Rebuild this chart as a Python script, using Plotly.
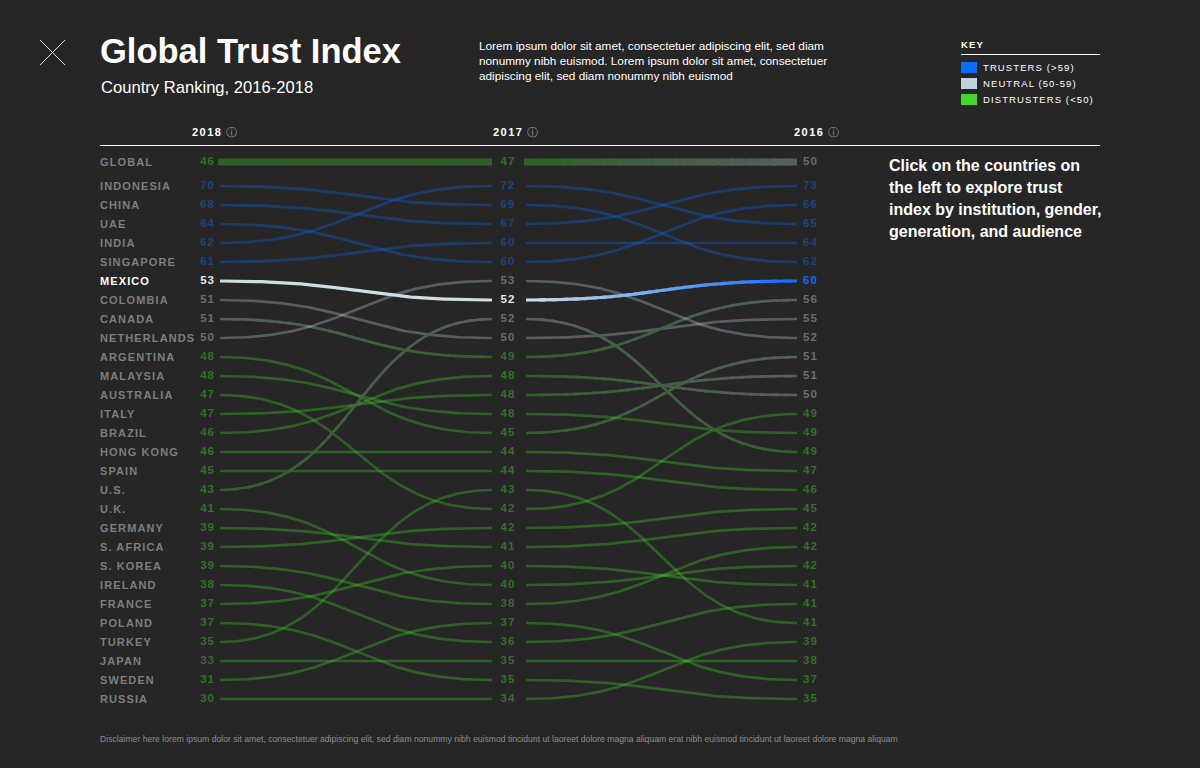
import numpy as np
import plotly.graph_objects as go

# ---------------- data ----------------
YEARS = ["2018", "2017", "2016"]
COUNTRIES = ["INDONESIA", "CHINA", "UAE", "INDIA", "SINGAPORE", "MEXICO", "COLOMBIA",
             "CANADA", "NETHERLANDS", "ARGENTINA", "MALAYSIA", "AUSTRALIA", "ITALY",
             "BRAZIL", "HONG KONG", "SPAIN", "U.S.", "U.K.", "GERMANY", "S. AFRICA",
             "S. KOREA", "IRELAND", "FRANCE", "POLAND", "TURKEY", "JAPAN", "SWEDEN", "RUSSIA"]
V2018 = [70, 68, 64, 62, 61, 53, 51, 51, 50, 48, 48, 47, 47, 46, 46, 45, 43, 41, 39, 39,
         39, 38, 37, 37, 35, 33, 31, 30]
V2017 = [69, 67, 60, 72, 60, 52, 50, 49, 53, 45, 48, 42, 48, 48, 44, 44, 52, 40, 41, 42,
         38, 36, 40, 35, 43, 35, 37, 34]
V2016 = [62, 73, 66, 65, 64, 60, 55, 56, 52, 51, 49, 49, 51, 50, 47, 46, 49, 42, 42, 45,
         42, 41, 41, 35, 41, 38, 37, 39]
RANK2017 = [2, 3, 5, 1, 4, 7, 9, 10, 6, 14, 13, 18, 12, 11, 15, 16, 8, 22, 20, 19, 23, 25,
            21, 27, 17, 26, 24, 28]
RANK2016 = [5, 1, 2, 3, 4, 6, 8, 7, 9, 10, 14, 13, 11, 12, 16, 17, 15, 21, 19, 18, 20, 23,
            22, 28, 24, 26, 27, 25]
GLOBAL_LABEL = "GLOBAL"
GLOBAL_VALUES = [46, 47, 50]
HIGHLIGHT = "MEXICO"
KEY_LABELS = ["TRUSTERS (>59)", "NEUTRAL (50-59)", "DISTRUSTERS (<50)"]

TITLE = "Global Trust Index"
SUBTITLE = "Country Ranking, 2016-2018"
DESC = ["Lorem ipsum dolor sit amet, consectetuer adipiscing elit, sed diam",
        "nonummy nibh euismod. Lorem ipsum dolor sit amet, consectetuer",
        "adipiscing elit, sed diam nonummy nibh euismod"]
SIDE = ["Click on the countries on", "the left to explore trust",
        "index by institution, gender,", "generation, and audience"]
FOOT = ("Disclaimer here lorem ipsum dolor sit amet, consectetuer adipiscing elit, sed diam "
        "nonummy nibh euismod tincidunt ut laoreet dolore magna aliquam erat nibh euismod "
        "tincidunt ut laoreet dolore magna aliquam")

# ---------------- style / layout ----------------
W, H = 1200, 768
FONT = "Liberation Sans, Arial, sans-serif"
BG = (38, 38, 38)
TRUST = (11, 108, 255)
NEUTRAL = (191, 212, 220)
DISTRUST = (68, 214, 44)
COL0_PX, COL_STEP_PX = 207, 301
ROW1_PX, ROW_STEP_PX = 186, 19
GLOBAL_ROW = -0.26
PAD_START = [13 / COL_STEP_PX, 18 / COL_STEP_PX]
PAD_END = [16 / COL_STEP_PX, 12 / COL_STEP_PX]
LINE_ALPHA = 0.32


def blend(c, a):
    return tuple(int(round(a * c[k] + (1 - a) * BG[k])) for k in range(3))


def rgb(c):
    return "rgb(%d,%d,%d)" % c


def cat(v):
    if v > 59:
        return TRUST
    if v >= 50:
        return NEUTRAL
    return DISTRUST


def py(px):  # paper y from pixel
    return 1 - px / H


def pxx(px):  # paper x from pixel
    return px / W


fig = go.Figure()


def curve(x0, y0, x1, y1, c0, c1, width, alpha=None):
    n = 121
    t = np.linspace(0, 1, n)
    xm = (x0 + x1) / 2
    xs = (1 - t) ** 3 * x0 + 3 * (1 - t) ** 2 * t * xm + 3 * (1 - t) * t ** 2 * xm + t ** 3 * x1
    ys = y0 + (y1 - y0) * (3 * t ** 2 - 2 * t ** 3)
    if c0 == c1:
        col = rgb(c0) if alpha is None else "rgba(%d,%d,%d,%.2f)" % (c0 + (alpha,))
        fig.add_trace(go.Scatter(x=xs, y=ys, mode="lines", line=dict(color=col, width=width),
                                 hoverinfo="skip", showlegend=False))
        return
    if alpha is not None:
        c0, c1 = blend(c0, alpha), blend(c1, alpha)
    k = 30
    step = (n - 1) // k
    for p in range(k):
        a, b = p * step, min(n, (p + 1) * step + 3)
        f = (xs[min(n - 1, p * step + step // 2)] - x0) / (x1 - x0)
        col = tuple(int(round(c0[j] + (c1[j] - c0[j]) * f)) for j in range(3))
        fig.add_trace(go.Scatter(x=xs[a:b], y=ys[a:b], mode="lines",
                                 line=dict(color=rgb(col), width=width),
                                 hoverinfo="skip", showlegend=False))


vals = [V2018, V2017, V2016]
ranks = [list(range(1, len(COUNTRIES) + 1)), RANK2017, RANK2016]

# global line
for s in range(2):
    curve(s + PAD_START[s] - 2 / COL_STEP_PX, GLOBAL_ROW, s + 1 - PAD_END[s], GLOBAL_ROW,
          blend(cat(GLOBAL_VALUES[s]), 0.32), blend(cat(GLOBAL_VALUES[s + 1]), 0.32), 7)

# country lines (dim first, highlight last)
order = [i for i, c in enumerate(COUNTRIES) if c != HIGHLIGHT] + \
        [i for i, c in enumerate(COUNTRIES) if c == HIGHLIGHT]
for i in order:
    hl = COUNTRIES[i] == HIGHLIGHT
    for s in range(2):
        c0, c1 = cat(vals[s][i]), cat(vals[s + 1][i])
        x0, x1 = s + PAD_START[s], s + 1 - PAD_END[s]
        if hl:
            c0 = (205, 222, 229) if c0 == NEUTRAL else c0
            c1 = (205, 222, 229) if c1 == NEUTRAL else c1
            curve(x0, ranks[s][i], x1, ranks[s + 1][i], c0, c1, 3.2)
        else:
            curve(x0, ranks[s][i], x1, ranks[s + 1][i], c0, c1, 2.7, alpha=LINE_ALPHA)

# value labels
TEXT_POS = ["middle left", "middle center", "middle right"]
TEXT_SHIFT = [8 / COL_STEP_PX, 0, -6 / COL_STEP_PX]
for j in range(3):
    xs, ys, txt, cols = [], [], [], []
    for i in range(len(COUNTRIES)):
        v = vals[j][i]
        xs.append(j + TEXT_SHIFT[j])
        ys.append(ranks[j][i])
        txt.append("<b><span style='letter-spacing:1px'>%d</span></b>" % v)
        if COUNTRIES[i] == HIGHLIGHT:
            c = cat(v)
            cols.append(rgb((225, 232, 236) if c == NEUTRAL else ((255, 255, 255) if j == 1 else c)))
        else:
            cols.append(rgb(blend(cat(v), 0.42)))
    gv = GLOBAL_VALUES[j]
    xs.append(j + TEXT_SHIFT[j])
    ys.append(GLOBAL_ROW)
    txt.append("<b><span style='letter-spacing:1px'>%d</span></b>" % gv)
    cols.append(rgb(blend(cat(gv), 0.42)))
    fig.add_trace(go.Scatter(x=xs, y=ys, mode="text", text=txt, textposition=TEXT_POS[j],
                             textfont=dict(family=FONT, size=11.5, color=cols),
                             hoverinfo="skip", showlegend=False))

ann = []
# country labels
for i, c in enumerate(COUNTRIES + [GLOBAL_LABEL]):
    y = ranks[0][i] if i < len(COUNTRIES) else GLOBAL_ROW
    col = "#ffffff" if c == HIGHLIGHT else "#7d7d7d"
    ann.append(dict(xref="paper", yref="y", x=pxx(98), y=y, xanchor="left", yanchor="middle",
                    text="<b><span style='letter-spacing:1.1px'>%s</span></b>" % c,
                    showarrow=False, font=dict(family=FONT, size=11, color=col)))

# year headers
for j, yr in enumerate(YEARS):
    ann.append(dict(xref="x", yref="paper", x=j, y=py(132), xanchor="center", yanchor="middle",
                    text="<b><span style='letter-spacing:1.5px'>%s</span></b>" % yr,
                    showarrow=False, font=dict(family=FONT, size=11, color="#ffffff")))
    ann.append(dict(xref="x", yref="paper", x=j, y=py(131.5), xanchor="center", yanchor="middle",
                    xshift=24, text="ⓘ", showarrow=False,
                    font=dict(family="DejaVu Sans", size=10.5, color="#9a9a9a")))

# title etc.
ann.append(dict(xref="paper", yref="paper", x=pxx(98), y=py(51), xanchor="left", yanchor="middle",
                text="<b>%s</b>" % TITLE, showarrow=False,
                font=dict(family=FONT, size=34.5, color="#ffffff")))
ann.append(dict(xref="paper", yref="paper", x=pxx(99), y=py(87.5), xanchor="left", yanchor="middle",
                text=SUBTITLE, showarrow=False, font=dict(family=FONT, size=16.6, color="#ffffff")))
for k, line in enumerate(DESC):
    ann.append(dict(xref="paper", yref="paper", x=pxx(477), y=py(46 + 15 * k), xanchor="left",
                    yanchor="middle", text=line, showarrow=False,
                    font=dict(family=FONT, size=11.8, color="#ffffff")))
for k, line in enumerate(SIDE):
    ann.append(dict(xref="paper", yref="paper", x=pxx(887), y=py(165.5 + 22 * k), xanchor="left",
                    yanchor="middle", text="<b>%s</b>" % line, showarrow=False,
                    font=dict(family=FONT, size=16, color="#ffffff")))
ann.append(dict(xref="paper", yref="paper", x=pxx(959), y=py(44.5), xanchor="left", yanchor="middle",
                text="<b><span style='letter-spacing:1.2px'>KEY</span></b>", showarrow=False,
                font=dict(family=FONT, size=9.5, color="#ffffff")))
KEY_COLORS = [TRUST, NEUTRAL, DISTRUST]
shapes = []
for k, lab in enumerate(KEY_LABELS):
    yc = 67.5 + 16 * k
    shapes.append(dict(type="rect", xref="paper", yref="paper", x0=pxx(961), x1=pxx(977),
                       y0=py(yc - 5.5), y1=py(yc + 5.5), line=dict(width=0),
                       fillcolor=rgb(KEY_COLORS[k])))
    ann.append(dict(xref="paper", yref="paper", x=pxx(981), y=py(yc), xanchor="left",
                    yanchor="middle", text="<span style='letter-spacing:1.1px'>%s</span>" % lab,
                    showarrow=False, font=dict(family=FONT, size=9.5, color="#ffffff")))
ann.append(dict(xref="paper", yref="paper", x=pxx(98), y=py(739), xanchor="left", yanchor="middle",
                text=FOOT, showarrow=False, font=dict(family=FONT, size=8.65, color="#8c8c8c")))

# rules and close icon
shapes += [
    dict(type="line", xref="paper", yref="paper", x0=pxx(100), x1=pxx(1100), y0=py(145.5),
         y1=py(145.5), line=dict(color="#ffffff", width=1)),
    dict(type="line", xref="paper", yref="paper", x0=pxx(961), x1=pxx(1100), y0=py(54.5),
         y1=py(54.5), line=dict(color="#ffffff", width=1)),
    dict(type="line", xref="paper", yref="paper", x0=pxx(40), x1=pxx(65), y0=py(40), y1=py(65),
         line=dict(color="#d8d8d8", width=1)),
    dict(type="line", xref="paper", yref="paper", x0=pxx(65), x1=pxx(40), y0=py(40), y1=py(65),
         line=dict(color="#d8d8d8", width=1)),
]

x_lo = -COL0_PX / COL_STEP_PX
x_hi = (W - COL0_PX) / COL_STEP_PX
y_top = 1 - ROW1_PX / ROW_STEP_PX
y_bot = 1 + (H - ROW1_PX) / ROW_STEP_PX

fig.update_layout(
    width=W, height=H, margin=dict(l=0, r=0, t=0, b=0),
    paper_bgcolor=rgb(BG), plot_bgcolor=rgb(BG),
    xaxis=dict(range=[x_lo, x_hi], visible=False, fixedrange=True),
    yaxis=dict(range=[y_bot, y_top], visible=False, fixedrange=True),
    showlegend=False, hovermode=False,
    annotations=ann, shapes=shapes,
    font=dict(family=FONT),
)

fig.write_html("out.html", config={"displayModeBar": False},
               post_script="document.body.style.margin='0';"
                           "document.body.style.background='rgb(38,38,38)';"
                           "document.body.style.overflow='hidden';")
